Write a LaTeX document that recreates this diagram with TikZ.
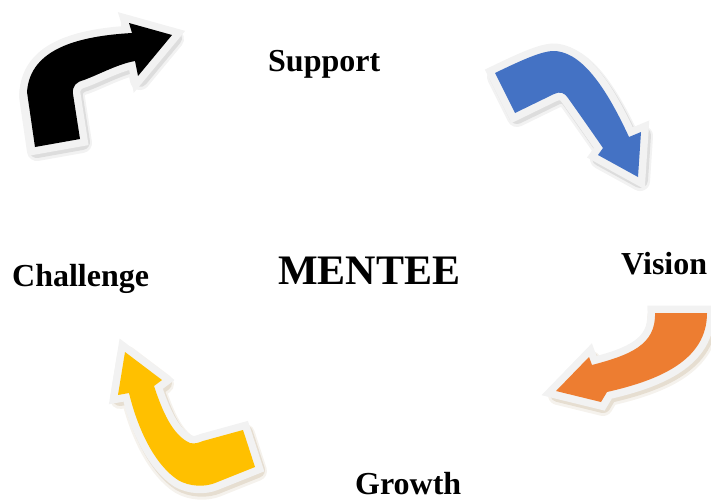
\documentclass[tikz,border=0pt]{standalone}
\usepackage{fontspec}
\setmainfont{Liberation Serif}
\definecolor{rim}{HTML}{F2F2F2}
\definecolor{arrowblue}{HTML}{4472C4}
\definecolor{arroworange}{HTML}{ED7D31}
\definecolor{arrowyellow}{HTML}{FFC000}
\definecolor{shadegray}{HTML}{7F7F7F}
\definecolor{shadetan}{HTML}{A08050}
% one bent arrow: soft shadow, pale rim, coloured body
\newcommand\bentarrow[3]{%
  \filldraw[#3, opacity=.10, line width=20pt, line join=round, shift={(2,4)}] #1;
  \filldraw[#3, opacity=.18, line width=16pt, line join=round, shift={(2,3)}] #1;
  \filldraw[fill=rim, draw=rim, line width=15pt, line join=miter] #1;
  \fill[#2] #1;
}
\tikzset{
  label/.style={anchor=base west, inner sep=0pt, font=\bfseries\fontsize{32}{36}\selectfont},
  hub/.style={anchor=base west, inner sep=0pt, font=\bfseries\fontsize{42}{46}\selectfont}
}
\begin{document}
\begin{tikzpicture}[x=1pt, y=-1pt]
\useasboundingbox (0,0) rectangle (711,499);
\begin{scope}
\clip (0,0) rectangle (711,499);
% black arrow, upper left
\bentarrow{(35,147) -- (80,139) -- (73,94) .. controls (72,86) and (76,82) .. (84,80)
  .. controls (100,74) and (118,64) .. (135,61) -- (138,76) -- (172,35) -- (129,23)
  -- (132,33) .. controls (80,36) and (30,48) .. (27,92) -- cycle}{black}{shadegray}
% blue arrow, upper right
\bentarrow{(495,73) -- (515,113) -- (554,94) .. controls (560,91) and (565,93) .. (568,98)
  .. controls (580,115) and (592,132) .. (603,148) -- (598,155) -- (638,177) -- (641,132)
  -- (629,137) .. controls (605,85) and (580,50) .. (552,51)
  .. controls (542,52) and (530,56) .. (495,73) -- cycle}{arrowblue}{shadegray}
% orange arrow, lower right
\bentarrow{(655,313) .. controls (656,345) and (630,355) .. (592,365) -- (589,357)
  -- (556,391) -- (601,402) -- (607,392) .. controls (660,380) and (707,360) .. (707,313)
  -- cycle}{arroworange}{shadetan}
% yellow arrow, lower left
\bentarrow{(125,352) -- (162,380) -- (154,386) .. controls (162,410) and (172,435) .. (190,443)
  .. controls (195,444) and (198,443) .. (203,441) -- (243,430) -- (255,467) -- (215,483)
  .. controls (205,487) and (190,487) .. (178,480) .. controls (155,465) and (138,430) .. (129,393)
  -- (118,395) -- cycle}{arrowyellow}{shadetan}
\end{scope}
% labels
\node[label] (support) at (268,71) {Support};
\node[label] (vision) at (621,274) {Vision};
\node[label] (growth) at (355,494) {Growth};
\node[label] (challenge) at (12,286) {Challenge};
\node[hub] (mentee) at (278,284) {MENTEE};
\end{tikzpicture}
\end{document}
